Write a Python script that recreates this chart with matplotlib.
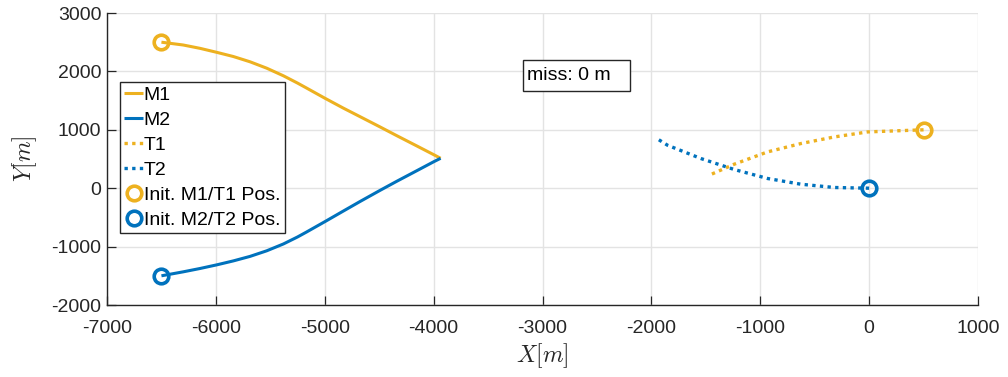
import matplotlib
matplotlib.use("Agg")
import matplotlib.pyplot as plt
from matplotlib.patches import Rectangle

# ---- data ----
m1_x = [-6500, -6300, -6146, -5993, -5840, -5687, -5533, -5380, -5250, -5167,
        -4998, -4830, -4676, -4493, -4339, -4156, -3997, -3936]
m1_y = [2500, 2452, 2395, 2327, 2255, 2165, 2055, 1925, 1800, 1715,
        1540, 1372, 1225, 1050, 900, 725, 572, 512]
m2_x = [-6500, -6300, -6146, -5993, -5840, -5687, -5533, -5380, -5250, -5167,
        -4998, -4830, -4676, -4493, -4339, -4156, -3997, -3936]
m2_y = [-1500, -1432, -1375, -1313, -1245, -1168, -1072, -955, -835, -750,
        -572, -392, -228, -38, 118, 298, 455, 512]
t1_x = [500, -12, -319, -626, -932, -1239, -1469]
t1_y = [1000, 964, 878, 765, 622, 411, 222]
t2_x = [0, -319, -626, -932, -1239, -1545, -1852, -1950]
t2_y = [0, 12, 68, 166, 320, 508, 736, 851]
init1_x = [-6500, 500]
init1_y = [2500, 1000]
init2_x = [-6500, 0]
init2_y = [-1500, 0]
xticks = [-7000, -6000, -5000, -4000, -3000, -2000, -1000, 0, 1000]
yticks = [-2000, -1000, 0, 1000, 2000, 3000]
miss_text = "miss: 0 m"

C1 = "#EDB120"
C2 = "#0072BD"
TXT = "#262626"

plt.rcParams['font.family'] = ['Liberation Sans', 'DejaVu Sans']
plt.rcParams['mathtext.fontset'] = 'cm'
plt.rcParams['axes.unicode_minus'] = False

W, H = 1008, 377
fig = plt.figure(figsize=(W / 100, H / 100), dpi=100)
L, R, T, B = 107, 978, 13, 305
ax = fig.add_axes([L / W, (H - B) / H, (R - L) / W, (B - T) / H])

lw = 2.2
ax.plot(m1_x, m1_y, color=C1, lw=lw, label="M1", solid_capstyle='butt')
ax.plot(m2_x, m2_y, color=C2, lw=lw, label="M2", solid_capstyle='butt')
ax.plot(t1_x, t1_y, color=C1, lw=2.4, ls=(0, (1, 1.3)), label="T1")
ax.plot(t2_x, t2_y, color=C2, lw=2.4, ls=(0, (1, 1.3)), label="T2")
ms, mew = 10.5, 2.6
ax.plot(init1_x, init1_y, ls='none', marker='o',
        mfc='none', mec=C1, ms=ms, mew=mew, label="Init. M1/T1 Pos.")
ax.plot(init2_x, init2_y, ls='none', marker='o',
        mfc='none', mec=C2, ms=ms, mew=mew, label="Init. M2/T2 Pos.")

ax.set_xlim(-7000, 1000)
ax.set_ylim(-2000, 3000)
ax.set_xticks(xticks)
ax.set_yticks(yticks)
ax.grid(True, color="#e3e3e3", lw=1.0)
ax.set_axisbelow(True)
for s in ['top', 'right']:
    ax.spines[s].set_visible(False)
for s in ['left', 'bottom']:
    ax.spines[s].set_color(TXT)
    ax.spines[s].set_linewidth(1.0)
ax.tick_params(direction='in', length=6.3, width=0.9, color=TXT,
               labelsize=14, labelcolor=TXT)
ax.tick_params(axis='x', pad=11)
ax.tick_params(axis='y', pad=4)

ax.set_xlabel(r"$X[m]$", fontsize=17, color=TXT, labelpad=3)
ax.set_ylabel(r"$Y[m]$", fontsize=17, color=TXT, labelpad=9)

leg = ax.legend(loc='upper left',
                bbox_to_anchor=((120 - L) / (R - L), (B - 82) / (B - T)),
                borderaxespad=0, fontsize=14, handlelength=0.95,
                handletextpad=0.05, labelspacing=0.38, borderpad=0.22,
                fancybox=False, framealpha=1, edgecolor=TXT)
leg.get_frame().set_linewidth(1.0)

fig.patches.append(Rectangle((523 / W, (H - 91) / H), (630 - 523) / W, 31 / H,
                             transform=fig.transFigure, facecolor='white',
                             edgecolor=TXT, lw=1.0, zorder=5))
fig.text(527 / W, (H - 76) / H, miss_text, fontsize=14, color='black',
         va='center', ha='left', zorder=6)

fig.savefig("out.png", dpi=100)
